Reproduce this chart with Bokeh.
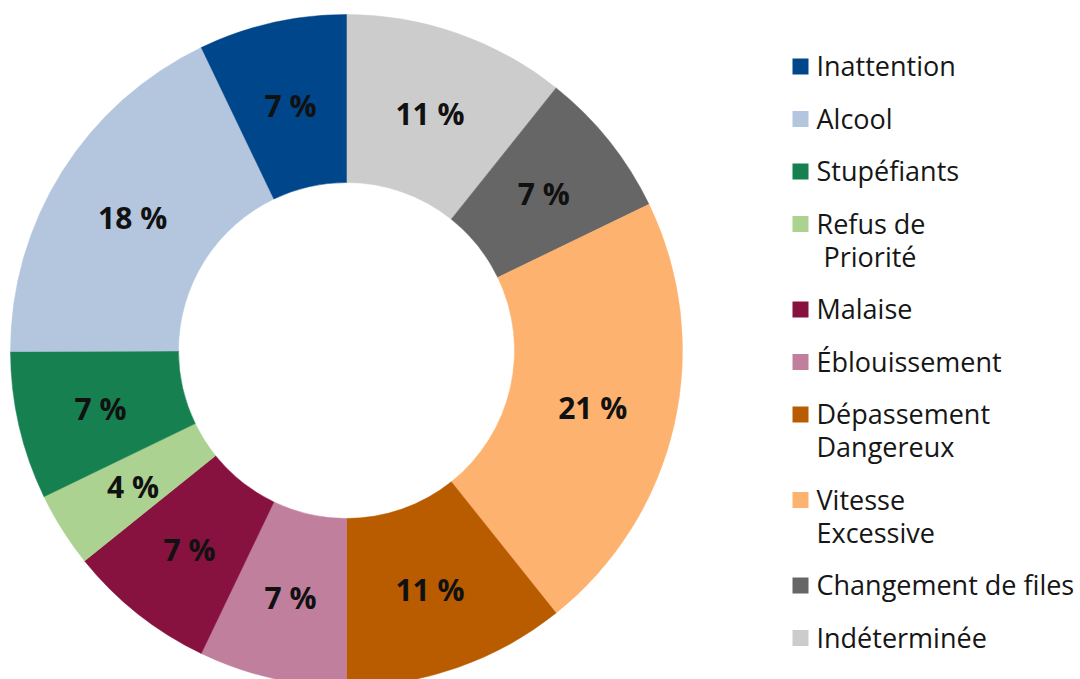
import math
from bokeh.plotting import figure
from bokeh.models import Range1d, ColumnDataSource
from bokeh.core.properties import value
from bokeh.embed import file_html
from bokeh.resources import INLINE

# Data (clockwise from top)
categories = ["Indéterminée", "Changement de files", "Vitesse Excessive", "Dépassement Dangereux",
              "Éblouissement", "Malaise", "Refus de Priorité", "Stupéfiants", "Alcool", "Inattention"]
shares = [10.7, 7.1, 21.4, 10.7, 7.1, 7.1, 3.6, 7.1, 17.9, 7.1]
colors = ["#cccccc", "#666666", "#fdb36f", "#b95c00", "#c17f9e", "#87113f", "#acd291",
          "#178050", "#b3c6de", "#00468b"]

# Legend order and text lines
legend_names = ["Inattention", "Alcool", "Stupéfiants", "Refus de Priorité", "Malaise",
                "Éblouissement", "Dépassement Dangereux", "Vitesse Excessive",
                "Changement de files", "Indéterminée"]
legend_lines = [["Inattention"], ["Alcool"], ["Stupéfiants"], ["Refus de", "\u00a0Priorité"], ["Malaise"],
                ["Éblouissement"], ["Dépassement", "Dangereux"], ["Vitesse", "Excessive"],
                ["Changement de files"], ["Indéterminée"]]

W, H = 1080, 679
FONT = "Open Sans"

p = figure(width=W, height=H, output_backend="svg", toolbar_location=None,
           x_range=Range1d(0, W), y_range=Range1d(0, H), min_border=0)
p.axis.visible = False
p.grid.visible = False
p.outline_line_color = None
p.background_fill_color = "white"

cx, cy = 346, H - 350
r_out, r_in = 336, 168
total = sum(shares)

starts, ends, lx, ly, labels = [], [], [], [], []
cum = 0.0
for s in shares:
    a0 = math.pi / 2 - 2 * math.pi * cum / total
    cum += s
    a1 = math.pi / 2 - 2 * math.pi * cum / total
    starts.append(a0)
    ends.append(a1)
    am = (a0 + a1) / 2
    rl = (r_out + r_in) / 2 + 0.5
    lx.append(cx + rl * math.cos(am))
    ly.append(cy + rl * math.sin(am) - 1)
    labels.append(f"{round(s)} %")

src = ColumnDataSource(dict(start=starts, end=ends, color=colors, lx=lx, ly=ly, label=labels))
p.annular_wedge(x=cx, y=cy, inner_radius=r_in, outer_radius=r_out, start_angle="start",
                end_angle="end", direction="clock", fill_color="color", line_color="color",
                line_width=0.5, source=src)
p.text(x="lx", y="ly", text="label", source=src, text_align="center", text_baseline="middle",
       text_font=value(FONT), text_font_size="30px", text_font_style="bold", text_color="#111111")

# Legend
cmap = dict(zip(categories, colors))
sq_x, tx = 800, 816
row_y = 66
step, line_h = 52.5, 33
sqx, sqy, sqc = [], [], []
txs, tys, tts = [], [], []
for name, lines in zip(legend_names, legend_lines):
    sqx.append(sq_x)
    sqy.append(H - row_y)
    sqc.append(cmap[name])
    for i, ln in enumerate(lines):
        txs.append(tx)
        tys.append(H - (row_y + i * line_h) + 1)
        tts.append(ln)
    row_y += step + line_h * (len(lines) - 1)

p.rect(x=sqx, y=sqy, width=16, height=16, fill_color=sqc, line_color=None)
p.text(x=txs, y=tys, text=tts, text_align="left", text_baseline="middle",
       text_font=value(FONT), text_font_size="27px", text_color="#161616")

open("out.html", "w").write(file_html(p, INLINE))
